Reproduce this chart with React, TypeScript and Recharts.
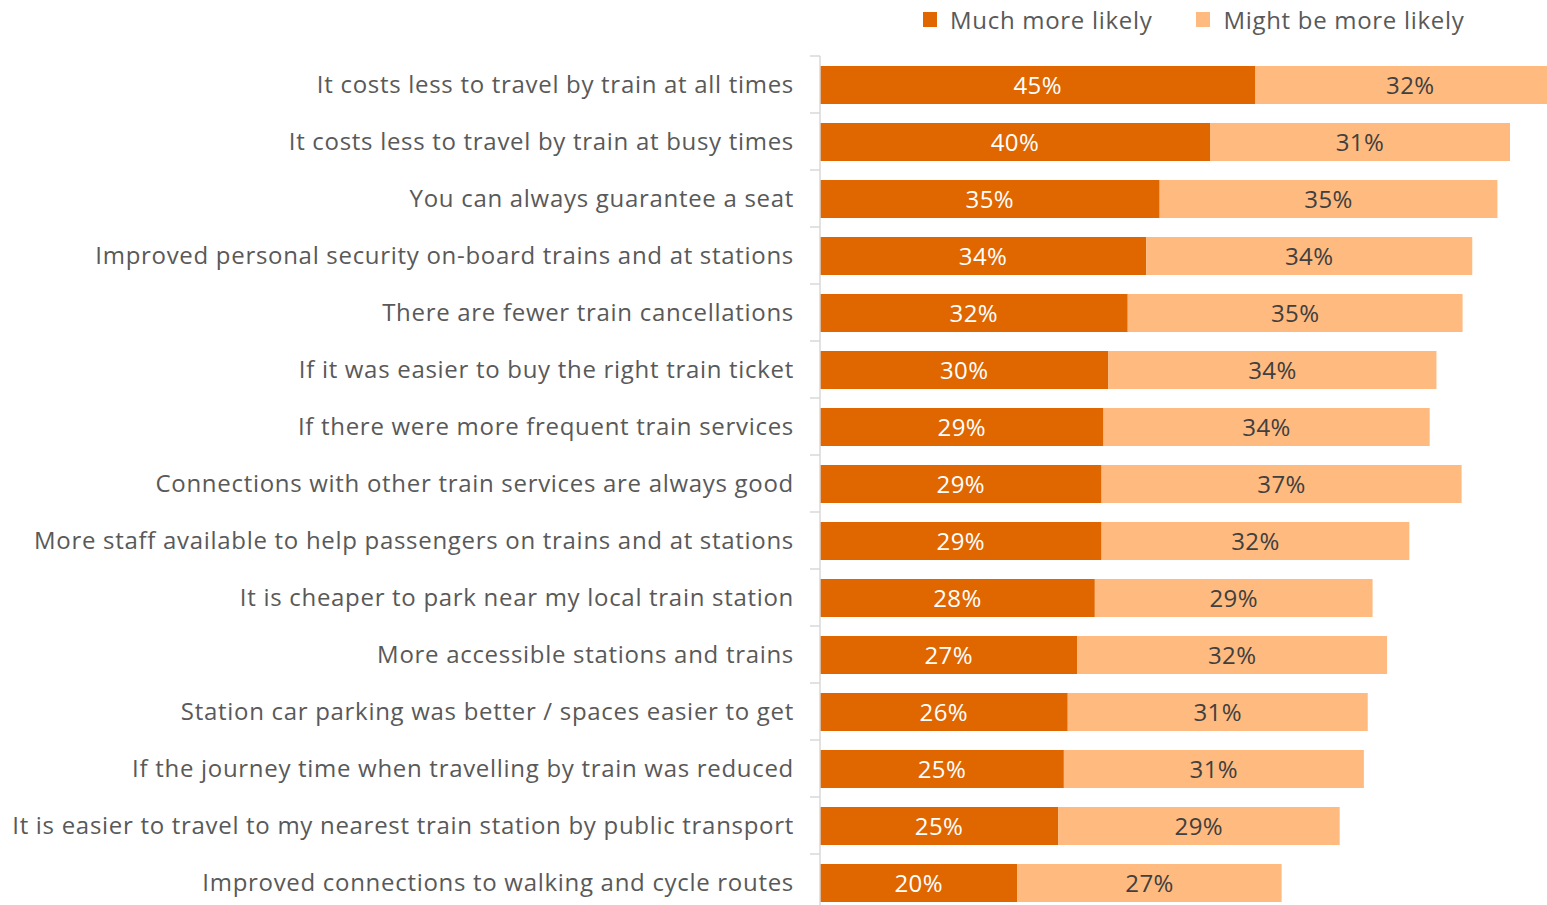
import React from "react";
import { BarChart, Bar, XAxis, YAxis, Legend, LabelList } from "recharts";

const categories = [
  "It costs less to travel by train at all times",
  "It costs less to travel by train at busy times",
  "You can always guarantee a seat",
  "Improved personal security on-board trains and at stations",
  "There are fewer train cancellations",
  "If it was easier to buy the right train ticket",
  "If there were more frequent train services",
  "Connections with other train services are always good",
  "More staff available to help passengers on trains and at stations",
  "It is cheaper to park near my local train station",
  "More accessible stations and trains",
  "Station car parking was better / spaces easier to get",
  "If the journey time when travelling by train was reduced",
  "It is easier to travel to my nearest train station by public transport",
  "Improved connections to walking and cycle routes",
];

const muchMoreLikely = [45.0, 40.3, 35.1, 33.7, 31.8, 29.8, 29.3, 29.1, 29.1, 28.4, 26.6, 25.6, 25.2, 24.6, 20.4];
const mightBeMoreLikely = [32.0, 31.0, 34.9, 33.7, 34.6, 33.9, 33.7, 37.2, 31.8, 28.7, 32.0, 31.0, 31.0, 29.1, 27.3];

const seriesNames = ["Much more likely", "Might be more likely"];
const seriesColors = ["#E06600", "#FFBA7F"];

const data = categories.map((name, i) => ({
  name,
  much: muchMoreLikely[i],
  might: mightBeMoreLikely[i],
}));

const FONT = "'Open Sans', 'Noto Sans', sans-serif";
const AXIS_WIDTH = 820;
const TOP = 56;
const PLOT_H = 855;
const HALF_BAND = PLOT_H / categories.length / 2;

const fmt = (v: any) => `${Math.round(Number(v))}%`;

const CategoryTick = (props: any) => {
  const { y, payload } = props;
  return (
    <g>
      <line x1={AXIS_WIDTH - 10} x2={AXIS_WIDTH} y1={y - HALF_BAND} y2={y - HALF_BAND} stroke="#D9D9D9" strokeWidth={1.5} />
      <text
        x={AXIS_WIDTH - 26}
        y={y}
        dy="0.36em"
        textAnchor="end"
        fill="#595959"
        fontSize={24}
        fontFamily={FONT}
        letterSpacing={0.7}
      >
        {payload.value}
      </text>
    </g>
  );
};

const LegendContent = () => (
  <div style={{ display: "flex", alignItems: "center", fontFamily: FONT, fontSize: 24, color: "#595959", whiteSpace: "nowrap" }}>
    {seriesNames.map((n, i) => (
      <div key={n} style={{ display: "flex", alignItems: "center", marginRight: i === 0 ? 44 : 0 }}>
        <span style={{ display: "inline-block", width: 14, height: 15, background: seriesColors[i], marginRight: 13 }} />
        <span style={{ letterSpacing: 0.7 }}>{n}</span>
      </div>
    ))}
  </div>
);

export default function App() {
  return (
    <div style={{ position: "fixed", left: 0, top: 0, width: 1547, height: 905, overflow: "hidden", background: "#fff" }}>
      <BarChart
        width={1600}
        height={TOP + PLOT_H + 10}
        data={data}
        layout="vertical"
        margin={{ top: TOP, right: 0, bottom: 10, left: 0 }}
        barSize={38}
      >
        <XAxis type="number" domain={[0, 80.6]} hide />
        <YAxis
          type="category"
          dataKey="name"
          width={AXIS_WIDTH}
          axisLine={{ stroke: "#D9D9D9", strokeWidth: 1.5 }}
          tickLine={false}
          tick={<CategoryTick />}
          interval={0}
        />
        <Legend
          verticalAlign="middle"
          layout="horizontal"
          align="center"
          wrapperStyle={{ top: 3, left: 923, width: "auto" }}
          content={<LegendContent />}
        />
        <Bar dataKey="much" name={seriesNames[0]} stackId="a" fill={seriesColors[0]} isAnimationActive={false}>
          <LabelList dataKey="much" position="center" fill="#FFFFFF" fontSize={24} fontFamily={FONT} letterSpacing={0.4} formatter={fmt} />
        </Bar>
        <Bar dataKey="might" name={seriesNames[1]} stackId="a" fill={seriesColors[1]} isAnimationActive={false}>
          <LabelList dataKey="might" position="center" fill="#404040" fontSize={24} fontFamily={FONT} letterSpacing={0.4} formatter={fmt} />
        </Bar>
      </BarChart>
    </div>
  );
}
